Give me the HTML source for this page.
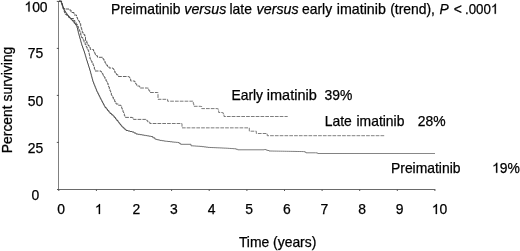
<!DOCTYPE html>
<html><head><meta charset="utf-8">
<style>
html,body{margin:0;padding:0;background:#fff;}
body{width:520px;height:251px;overflow:hidden;font-family:"Liberation Sans",sans-serif;}
svg{display:block;will-change:transform}
text{font-family:"Liberation Sans",sans-serif;fill:#000;}
.i{font-style:italic}
</style></head><body>
<svg width="520" height="251" viewBox="0 0 520 251">
<rect width="520" height="251" fill="#fff"/>
<g stroke-width="1" fill="none">
<path stroke="#808080" d="M58.5 1V190"/>
<path stroke="#6a6a6a" d="M58 189.5H435.3"/>
</g>
<g stroke="#555" stroke-width="1" fill="none">
<path d="M56.8 1.4H59M56.8 48.4H59M56.8 95.4H59M56.8 142.4H59M57 189.5H59"/>
<path d="M58.8 189.5V191M96.4 189.5V191M134.0 189.5V191M171.6 189.5V191M209.2 189.5V191M246.9 189.5V191M284.5 189.5V191M322.1 189.5V191M359.7 189.5V191M397.3 189.5V191M434.9 189.5V191"/>
</g>
<defs>
<path id="one" fill="#000" stroke="#000" stroke-width="37" d="M763 0H583V1147Q518 1085 412.5 1023T223 930V1104Q374 1175 487 1276T647 1472H763Z"/>
<linearGradient id="gp" gradientUnits="userSpaceOnUse" x1="59" y1="0" x2="435" y2="0"><stop offset="0" stop-color="#3a3a3a"/><stop offset="0.17" stop-color="#484848"/><stop offset="0.3" stop-color="#666"/><stop offset="1" stop-color="#7c7c7c"/></linearGradient>
<linearGradient id="gd" gradientUnits="userSpaceOnUse" x1="59" y1="0" x2="435" y2="0"><stop offset="0" stop-color="#444"/><stop offset="0.15" stop-color="#505050"/><stop offset="0.3" stop-color="#6a6a6a"/><stop offset="1" stop-color="#777"/></linearGradient>
</defs>
<g fill="none" stroke-width="0.9" stroke-linejoin="miter">
<path id="early" stroke="url(#gd)" stroke-dasharray="3.7 1.1" d="M59 1.2H60.8H61.60V3.67H62.40V6.13H63.20V8.60H65.30V9.00H69.00V10.00H71.00V12.50H74.00V15.00H76.50V17.40H77.45V19.20H78.40V21.00H79.55V23.70H80.70V26.40H81.23V28.53H81.77V30.67H82.30V32.80H83.50V34.40H84.70V36.00H85.50V40.70H86.75V43.10H88.00V45.50H89.15V47.50H90.30V49.50H93.50V51.00H94.25V52.65H95.00V54.30H96.25V55.80H97.50V57.30H102H103.00V59.15H104.00V61.00H105.00V63.00H106.00V65.00H107.50V66.50H109.00V68.00H113.00V69.00H114.00V71.00H115.00V73.00H116.50V74.75H118.00V76.50H128.70V77.00H129.70V79.00H130.70V81.00H134.70V82.00H135.70V84.00H136.70V86.00H139.70V88.00H147.70V88.20H148.70V90.35H149.70V92.50H157.4H158.00V99.30H167.2H167.60V101.20H192.8H193.30V103.75H193.80V106.30H200.70V106.50H201.70V108.60H217.70V108.80H218.20V110.65H218.70V112.50H222.60V112.90H223.30V114.70H224.00V116.50H287.7"/>
<path id="late" stroke="url(#gd)" stroke-dasharray="3.7 1.1" d="M59 1.2H60.8H61.40V3.05H62.00V4.90H62.60V6.75H63.20V8.60H64.00V11.50H64.65V12.95H65.30V14.40H67.00V16.00H68.50V17.25H70.00V18.50H73.50V20.50H74.83V22.47H76.17V24.43H77.50V26.40H78.33V28.53H79.17V30.67H80.00V32.80H80.75V35.15H81.50V37.50H82.75V39.90H84.00V42.30H85.15V44.65H86.30V47.00H87.10V48.67H87.90V50.33H88.70V52.00H89.13V54.33H89.57V56.67H90.00V59.00H91.00V61.00H92.00V63.00H93.00V65.00H93.67V67.00H94.33V69.00H95.00V71.00H101.00V72.00H102.00V73.67H103.00V75.33H104.00V77.00H105.00V79.00H106.00V81.00H107.00V83.00H108.00V85.00H108.67V87.00H109.33V89.00H110.00V91.00H110.67V93.00H111.33V95.00H112.00V97.00H113.33V99.33H114.67V101.67H116.00V104.00H118.50V105.25H121.00V106.50H121.67V108.33H122.33V110.17H123.00V112.00H123.67V113.80H124.33V115.60H125.00V117.40H132.00V117.80H133.50V119.40H145.8H146.80V120.70H147.80V122.00H149.80V123.50H181.40V123.60H182.00V127.85H248.7H249.30V131.20H255.7H256.30V133.50H266.5H267.20V135.70H384.5"/>
<path id="pre" stroke="url(#gp)" d="M59 1.2H60.8H61.28V2.68H61.76V4.16H62.24V5.64H62.72V7.12H63.20V8.60H63.90V9.80H64.60V11.00H65.30V12.20H66.03V13.27H66.77V14.33H67.50V15.40H68.55V16.70H69.60V18.00H70.80V19.25H72.00V20.50H73.17V21.98H74.35V23.45H75.53V24.92H76.70V26.40H77.10V28.00H77.50V29.60H77.90V31.20H78.30V32.80H78.72V34.35H79.15V35.90H79.58V37.45H80.00V39.00H80.40V40.40H80.80V41.80H81.20V43.20H81.60V44.60H82.00V46.00H82.50V47.40H83.00V48.80H83.50V50.20H84.00V51.60H84.50V53.00H84.92V54.42H85.33V55.83H85.75V57.25H86.17V58.67H86.58V60.08H87.00V61.50H87.50V63.08H88.00V64.67H88.50V66.25H89.00V67.83H89.50V69.42H90.00V71.00H90.43V72.57H90.86V74.14H91.29V75.71H91.71V77.29H92.14V78.86H92.57V80.43H93.00V82.00H93.57V83.43H94.14V84.86H94.71V86.29H95.29V87.71H95.86V89.14H96.43V90.57H97.00V92.00H97.80V93.60H98.60V95.20H99.40V96.80H100.20V98.40H101.00V100.00H101.80V101.50H102.60V103.00H103.40V104.50H104.20V106.00H105.00V107.50H106.25V109.00H107.50V110.50H108.75V112.00H110.00V113.50H111.50V114.75H113.00V116.00H114.25V117.50H115.50V119.00H116.75V120.50H118.00V122.00H119.00V123.25H120.00V124.50H121.00V125.75H122.00V127.00H123.33V128.17H124.67V129.33H126.00V130.50H128.00V131.00H130.00V131.50H132.00V132.00H134.00V133.00H136.00V134.00H137.95V134.32H139.90V134.65H141.85V134.98H143.80V135.30H145.55V135.60H147.30V135.90H149.05V136.20H150.80V136.50H152.80V137.75H154.80V139.00H155.90V139.35H157.00V139.70H158.50V140.05H160.00V140.40H161.85V140.70H163.70V141.00H165.13V141.17H166.57V141.33H168.00V141.50H170.00V141.75H172.00V142.00H173.90V142.17H175.80V142.33H177.70V142.50H179.15V143.40H180.60V144.30H189H191.00V145.80H192.80V145.92H194.60V146.04H196.40V146.16H198.20V146.28H200.00V146.40H201.97V146.65H203.95V146.90H205.93V147.15H207.90V147.40H209.89V147.49H211.88V147.58H213.87V147.67H215.86V147.76H217.84V147.84H219.83V147.93H221.82V148.02H223.81V148.11H225.80V148.20H227.58V148.32H229.36V148.44H231.14V148.56H232.92V148.68H234.70V148.80H236.20V149.30H237.70V149.80H264.30V149.50H265.87V150.00H267.43V150.50H269.00V151.00H270.93V151.03H272.86V151.07H274.78V151.10H276.71V151.13H278.64V151.17H280.57V151.20H282.49V151.23H284.42V151.27H286.35V151.30H288.28V151.33H290.21V151.37H292.13V151.40H294.06V151.43H295.99V151.47H297.92V151.50H299.84V151.53H301.77V151.57H303.70V151.60H304.85V152.20H306.00V152.80H315.7H316.85V153.15H318.00V153.50H435"/>
</g>
<g font-size="13.9" stroke="#000" stroke-width="0.25">
<g text-anchor="middle">
<use href="#one" transform="translate(24.41 11.60) scale(0.006787 -0.006787)"/><text x="32.14" y="11.6" text-anchor="start">00</text>
<text x="35.6" y="58.3">75</text>
<text x="35.6" y="105.6">50</text>
<text x="35.6" y="152.5">25</text>
<text x="35.3" y="200">0</text>
</g>
<g text-anchor="middle"><text x="61.1" y="214">0</text><text x="136.3" y="214">2</text><text x="173.9" y="214">3</text><text x="211.5" y="214">4</text><text x="249.2" y="214">5</text><text x="286.8" y="214">6</text><text x="324.4" y="214">7</text><text x="362.0" y="214">8</text><text x="399.6" y="214">9</text><use href="#one" transform="translate(94.85 214.00) scale(0.006787 -0.006787)"/><use href="#one" transform="translate(431.77 214.00) scale(0.006787 -0.006787)"/><text x="439.50" y="214" text-anchor="start">0</text></g>
<g id="title">
<text x="110.9" y="13.8">Preimatinib</text>
<text x="184.3" y="13.8" class="i" textLength="42" lengthAdjust="spacingAndGlyphs">versus</text>
<text x="229.5" y="13.8">late</text>
<text x="256.6" y="13.8" class="i" textLength="42" lengthAdjust="spacingAndGlyphs">versus</text>
<text x="302" y="13.8">early</text>
<text x="336.8" y="13.8" textLength="49" lengthAdjust="spacingAndGlyphs">imatinib</text>
<text x="390.2" y="13.8">(trend),</text>
<text x="439.5" y="13.8" class="i">P</text>
<text x="453.8" y="13.8">&lt;</text>
<text x="465" y="13.8" textLength="25.90" lengthAdjust="spacingAndGlyphs">.000</text><use href="#one" transform="translate(490.90 13.80) scale(0.006498 -0.006787)"/>
</g>
<text x="231.4" y="99.5">Early</text><text x="266.8" y="99.5" textLength="50" lengthAdjust="spacingAndGlyphs">imatinib</text><text x="324.5" y="99.5">39%</text>
<text x="324.7" y="126.3">Late</text><text x="356.5" y="126.3">imatinib</text><text x="417.8" y="126.3">28%</text>
<text x="391" y="172.6">Preimatinib</text><use href="#one" transform="translate(492.10 172.80) scale(0.006787 -0.006787)"/><text x="499.83" y="172.8">9%</text>
<text x="238.9" y="246.7">Time (years)</text>
<text transform="translate(11.7,153.2) rotate(-90)">Percent surviving</text>
</g>
</svg>
</body></html>
